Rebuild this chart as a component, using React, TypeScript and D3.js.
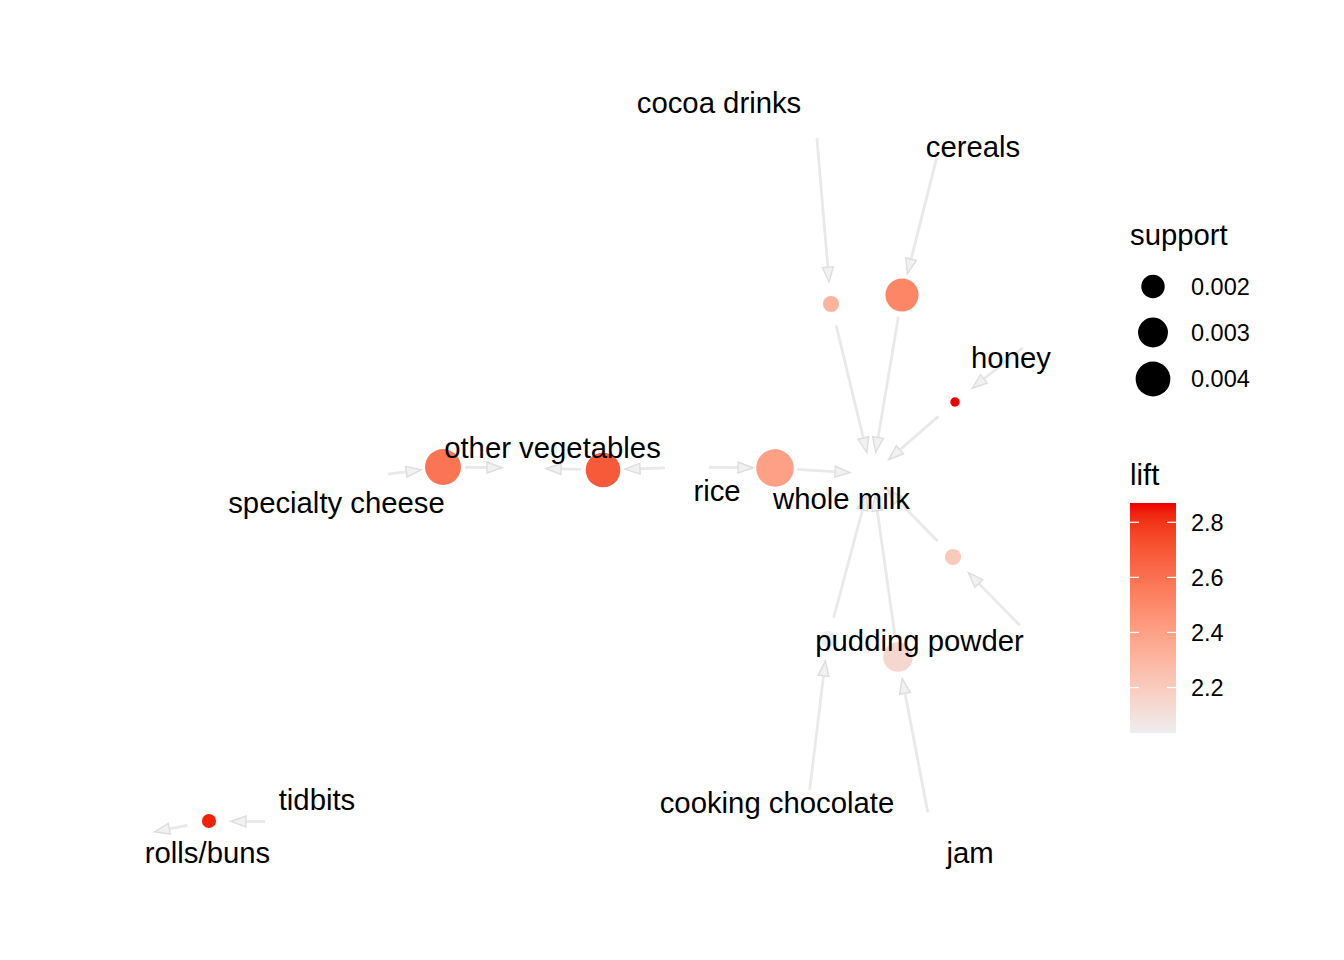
import React from 'react'
import * as d3 from 'd3'

// item nodes: layout coordinates of the graph (stress layout, y up)
const itemNames = ['whole milk', 'other vegetables', 'rice', 'cocoa drinks', 'cereals', 'honey',
  'pudding powder', 'cooking chocolate', 'jam', 'specialty cheese', 'tidbits', 'rolls/buns']
const itemX = [2.32, -1.16, 0.47, 1.75, 3.02, 4.0, 3.95, 1.67, 2.92, -2.74, -3.53, -5.07]
const itemY = [0.06, 0.12, 0.13, 3.64, 3.43, 1.46, -1.61, -3.32, -3.54, 0.03, -3.42, -3.56]
// repelled label positions (layout coordinates, text centre)
const labelX = [2.015, -0.875, 0.77, 0.79, 3.33, 3.71, 2.795, 1.37, 3.3, -3.035, -3.23, -4.325]
const labelY = [-0.17, 0.34, -0.09, 3.79, 3.35, 1.24, -1.59, -3.21, -3.71, -0.21, -3.18, -3.71]

// rules: lhs -> rhs, with support and lift
const ruleLhs = ['cocoa drinks', 'cereals', 'honey', 'rice', 'specialty cheese', 'rice',
  'pudding powder', 'cooking chocolate', 'jam', 'tidbits']
const ruleRhs = ['whole milk', 'whole milk', 'whole milk', 'whole milk', 'other vegetables',
  'other vegetables', 'whole milk', 'whole milk', 'whole milk', 'rolls/buns']
const ruleX = [1.91, 2.62, 3.15, 1.35, -1.97, -0.37, 3.13, 1.88, 2.58, -4.31]
const ruleY = [1.76, 1.85, 0.78, 0.12, 0.13, 0.1, -0.77, -1.59, -1.77, -3.41]
const ruleSupport = [0.00132, 0.00366, 0.00112, 0.00468, 0.00427, 0.00397, 0.00132, 0.00132, 0.00295, 0.00122]
const ruleLift = [2.313, 2.516, 2.870, 2.400, 2.584, 2.687, 2.212, 2.035, 2.142, 2.837]

const supportBreaks = [0.002, 0.003, 0.004]
const liftBreaks = [2.2, 2.4, 2.6, 2.8]

const W = 1344
const H = 960
const FONT = '"Liberation Sans", Arial, Helvetica, sans-serif'
const CAP = 22

const xScale = d3.scaleLinear().domain([-6, 6]).range([40, 1240])
const yScale = d3.scaleLinear().domain([-5, 5]).range([980, -20])

const supExt = d3.extent(ruleSupport) as [number, number]
const supT = d3.scaleLinear().domain(supExt).range([0, 1])
const sizeScale = (s: number) => 4.7 + (18.8 - 4.7) * Math.sqrt(Math.max(0, supT(s)))

const liftExt = d3.extent(ruleLift) as [number, number]
const colorScale = d3.scaleLinear<string>().domain(liftExt).range(['#EEEEEE', '#EE0000'])
  .interpolate(d3.interpolateLab)

type Pt = { x: number; y: number }

function itemPos(name: string): Pt {
  const i = itemNames.indexOf(name)
  return { x: xScale(itemX[i]), y: yScale(itemY[i]) }
}

function Edge({ a, b }: { a: Pt; b: Pt }) {
  const dx = b.x - a.x
  const dy = b.y - a.y
  const len = Math.hypot(dx, dy)
  const ux = dx / len
  const uy = dy / len
  const sx = a.x + ux * CAP
  const sy = a.y + uy * CAP
  const tx = b.x - ux * CAP
  const ty = b.y - uy * CAP
  const al = 15
  const aw = al * Math.tan((20 * Math.PI) / 180)
  const bx = tx - ux * al
  const by = ty - uy * al
  const head = d3.line()([
    [tx, ty],
    [bx - uy * aw, by + ux * aw],
    [bx + uy * aw, by - ux * aw],
  ]) + 'Z'
  return (
    <g>
      <line x1={sx} y1={sy} x2={tx - ux * 4} y2={ty - uy * 4} stroke="#E9E9E9" strokeWidth={2.8} />
      <path d={head} fill="#F1F1F1" stroke="#DDDDDD" strokeWidth={1.4} strokeLinejoin="miter" />
    </g>
  )
}

export default function App() {
  const rulePts = ruleX.map((x, i) => ({ x: xScale(x), y: yScale(ruleY[i]) }))

  const barX = 1130
  const barW = 46
  const barTop = 503
  const barBottom = 733
  const barScale = d3.scaleLinear().domain(liftExt).range([barBottom, barTop])
  const gradStops = d3.range(0, 1.0001, 0.05)

  const legendY = d3.scaleOrdinal<number, number>().domain(supportBreaks).range([286.5, 332.5, 379])

  return (
    <svg width={W} height={H} style={{ position: 'absolute', left: 0, top: 0, background: '#fff' }}>
      <defs>
        <linearGradient id="liftGrad" x1="0" y1="1" x2="0" y2="0">
          {gradStops.map(t => (
            <stop key={t} offset={t} stopColor={colorScale(liftExt[0] + t * (liftExt[1] - liftExt[0]))} />
          ))}
        </linearGradient>
      </defs>

      {/* edges */}
      {ruleLhs.map((lhs, i) => (
        <g key={'e' + i}>
          <Edge a={itemPos(lhs)} b={rulePts[i]} />
          <Edge a={rulePts[i]} b={itemPos(ruleRhs[i])} />
        </g>
      ))}

      {/* rule nodes */}
      {rulePts.map((p, i) => (
        <circle key={'r' + i} cx={p.x} cy={p.y} r={sizeScale(ruleSupport[i])} fill={colorScale(ruleLift[i])} />
      ))}

      {/* item labels */}
      {itemNames.map((name, i) => (
        <text key={name} x={xScale(labelX[i])} y={yScale(labelY[i]) + 2} dy="0.35em" textAnchor="middle"
          fontFamily={FONT} fontSize={29.3} fill="#000">
          {name}
        </text>
      ))}

      {/* support legend */}
      <text x={1130} y={245} fontFamily={FONT} fontSize={29.3}>support</text>
      {supportBreaks.map(s => (
        <g key={s}>
          <circle cx={1153} cy={legendY(s)} r={sizeScale(s)} fill="#000" />
          <text x={1191} y={legendY(s)} dy="0.35em" fontFamily={FONT} fontSize={23.5}>{s.toFixed(3)}</text>
        </g>
      ))}

      {/* lift legend */}
      <text x={1130} y={485} fontFamily={FONT} fontSize={29.3}>lift</text>
      <rect x={barX} y={barTop} width={barW} height={barBottom - barTop} fill="url(#liftGrad)" />
      {liftBreaks.map(b => (
        <g key={b}>
          <line x1={barX} x2={barX + 9} y1={barScale(b)} y2={barScale(b)} stroke="#fff" strokeWidth={1.2} />
          <line x1={barX + barW - 9} x2={barX + barW} y1={barScale(b)} y2={barScale(b)} stroke="#fff" strokeWidth={1.2} />
          <text x={1191} y={barScale(b)} dy="0.35em" fontFamily={FONT} fontSize={23.5}>{b.toFixed(1)}</text>
        </g>
      ))}
    </svg>
  )
}
